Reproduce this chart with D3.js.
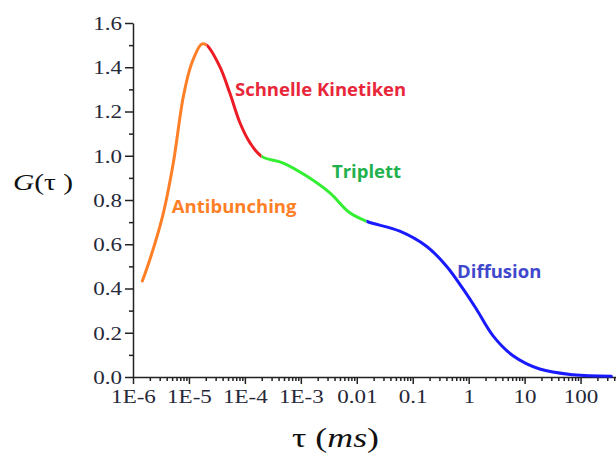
<!DOCTYPE html>
<html>
<head>
<meta charset="utf-8">
<script src="https://cdn.jsdelivr.net/npm/d3@7"></script>
<style>
body { margin: 0; background: #fff; }
svg { display: block; }
.tick text { font-family: "Liberation Serif", serif; font-size: 18px; fill: #262838; }
.phase { font-family: "Open Sans", sans-serif; font-weight: 700; font-size: 18.5px; }
</style>
</head>
<body>
<svg id="chart" width="616" height="455"></svg>
<script>
// tau in ms, G(tau), one array per phase
var antibunching = [[1.47e-6, 0.434], [2.01e-6, 0.532], [3.48e-6, 0.740], [5.25e-6, 0.967],
	[7.93e-6, 1.267], [1.12e-5, 1.418], [1.69e-5, 1.505], [2.07e-5, 1.500]];
var schnelle = [[2.07e-5, 1.500], [3.58e-5, 1.402], [5.40e-5, 1.282], [8.15e-5, 1.149],
	[1.23e-4, 1.059], [1.99e-4, 0.997]];
var triplett = [[1.99e-4, 0.997], [4.84e-4, 0.967], [1.27e-3, 0.908], [3.30e-3, 0.832],
	[7.52e-3, 0.742], [0.0149, 0.704]];
var diffusion = [[0.0149, 0.704], [0.0587, 0.659], [0.176, 0.591], [0.402, 0.501],
	[0.794, 0.398], [1.38, 0.306], [2.73, 0.186], [6.21, 0.096], [18.6, 0.036],
	[73.3, 0.010], [356, 0.003]];

var xTickValues = [1e-6, 1e-5, 1e-4, 1e-3, 0.01, 0.1, 1, 10, 100];
var xTickLabels = ["1E-6", "1E-5", "1E-4", "1E-3", "0.01", "0.1", "1", "10", "100"];
var yTickValues = [0, 0.2, 0.4, 0.6, 0.8, 1.0, 1.2, 1.4, 1.6];
var yMinorValues = [0.1, 0.3, 0.5, 0.7, 0.9, 1.1, 1.3, 1.5];

// label anchor (tau, G) for each phase
var phases = [
	{name: "Antibunching", data: antibunching, line: "#ff7f27", text: "#ff7f27", lx: 4.95e-6, ly: 0.741},
	{name: "Schnelle Kinetiken", data: schnelle, line: "#ed1c24", text: "#e8283a", lx: 6.65e-5, ly: 1.27},
	{name: "Triplett", data: triplett, line: "#33ee33", text: "#22b14c", lx: 3.6e-3, ly: 0.899},
	{name: "Diffusion", data: diffusion, line: "#1a1aff", text: "#3f48cc", lx: 0.62, ly: 0.447}
];

// the source picture is stretched sideways, so serif texts are too
var stretch = 1.28;

var svg = d3.select("#chart");

var x = d3.scaleLog().domain([1e-6, 430]).range([133, 616]);
var y = d3.scaleLinear().domain([0, 1.6]).range([377, 23]);

// x axis: minor ticks first, then decades with labels
var minor = x.ticks().filter(function(d) {
	var l = Math.log10(d);
	return Math.abs(l - Math.round(l)) > 1e-6;
});
svg.append("g")
	.attr("transform", "translate(0,377)")
	.call(d3.axisBottom(x).tickValues(minor).tickSize(4).tickSizeOuter(0).tickFormat(""))
	.call(function(g) { g.select(".domain").remove(); });
svg.append("g")
	.attr("transform", "translate(0,377)")
	.call(d3.axisBottom(x).tickValues(xTickValues).tickSize(7).tickSizeOuter(0)
		.tickFormat(function(d, i) { return xTickLabels[i]; }))
	.call(function(g) {
		g.selectAll("text").attr("dy", "0.9em").attr("transform", "scale(" + stretch + ",1)");
	});

// y axis
svg.append("g")
	.attr("transform", "translate(133,0)")
	.call(d3.axisLeft(y).tickValues(yMinorValues).tickSize(4).tickFormat(""))
	.call(function(g) { g.select(".domain").remove(); });
svg.append("g")
	.attr("transform", "translate(133,0)")
	.call(d3.axisLeft(y).tickValues(yTickValues).tickSize(8).tickSizeOuter(0)
		.tickFormat(d3.format(".1f")))
	.call(function(g) {
		g.selectAll("text").attr("x", -11 / stretch).attr("dy", "0.36em")
			.attr("transform", "scale(" + stretch + ",1)");
	});

svg.selectAll(".domain, .tick line").attr("stroke", "#222").attr("stroke-width", 1.5);

// one smooth curve through all points, coloured per phase with clip rectangles
var all = [];
phases.forEach(function(p) {
	p.data.forEach(function(d) {
		if (!all.length || all[all.length - 1][0] !== d[0]) all.push(d);
	});
});

var line = d3.line()
	.x(function(d) { return x(d[0]); })
	.y(function(d) { return y(d[1]); })
	.curve(d3.curveCatmullRom.alpha(0.5));

var defs = svg.append("defs");
phases.forEach(function(p, i) {
	var x0 = i === 0 ? 0 : x(p.data[0][0]);
	var x1 = i === phases.length - 1 ? 616 : x(p.data[p.data.length - 1][0]);
	defs.append("clipPath").attr("id", "clip" + i)
		.append("rect")
		.attr("x", x0).attr("y", 0)
		.attr("width", x1 - x0).attr("height", 455);
});

svg.append("g").selectAll("path")
	.data(phases)
	.enter()
	.append("path")
	.attr("d", line(all))
	.attr("clip-path", function(d, i) { return "url(#clip" + i + ")"; })
	.attr("fill", "none")
	.attr("stroke", function(d) { return d.line; })
	.attr("stroke-width", 3)
	.attr("stroke-linecap", "round");

svg.append("g").selectAll("text")
	.data(phases)
	.enter()
	.append("text")
	.attr("class", "phase")
	.attr("x", function(d) { return x(d.lx); })
	.attr("y", function(d) { return y(d.ly); })
	.attr("fill", function(d) { return d.text; })
	.text(function(d) { return d.name; });

// axis titles
var gt = svg.append("text")
	.attr("transform", "translate(13,190) scale(" + stretch + ",1)")
	.attr("font-family", "Liberation Serif, serif")
	.attr("font-size", 23)
	.attr("fill", "#111");
gt.append("tspan").attr("font-style", "italic").text("G");
gt.append("tspan").text("(τ )");

var xt = svg.append("text")
	.attr("transform", "translate(292,447) scale(" + stretch + ",1)")
	.attr("font-family", "Liberation Serif, serif")
	.attr("font-size", 28)
	.attr("fill", "#111");
xt.append("tspan").text("τ (");
xt.append("tspan").attr("font-style", "italic").text("ms");
xt.append("tspan").text(")");
</script>
</body>
</html>
